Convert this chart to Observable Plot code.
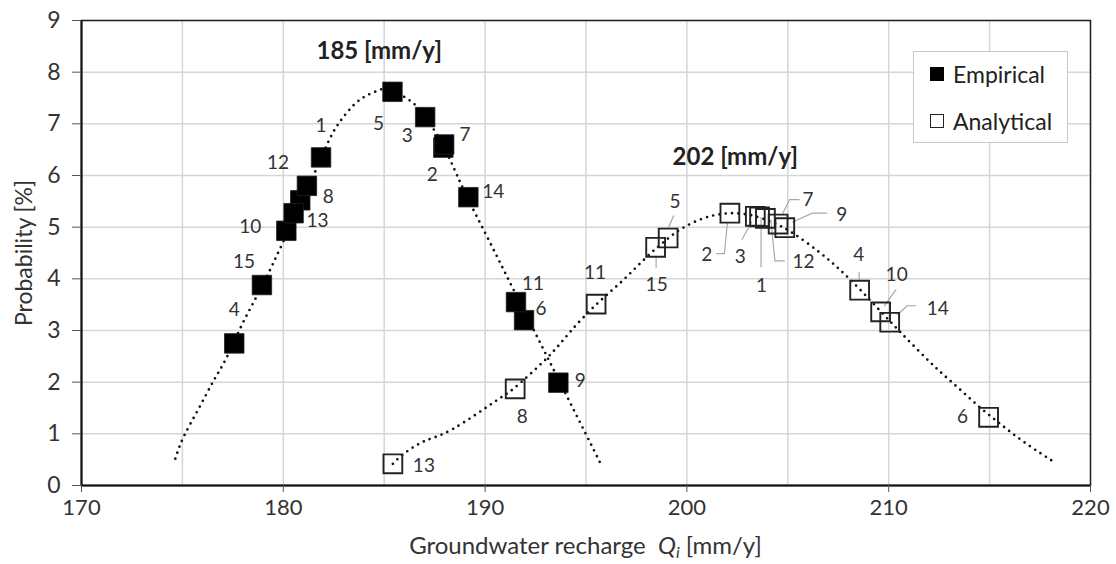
<!DOCTYPE html>
<html>
<head>
<meta charset="utf-8">
<script src="https://cdn.jsdelivr.net/npm/d3@7"></script>
<script src="https://cdn.jsdelivr.net/npm/@observablehq/plot@0.6"></script>
<style>
  body { margin: 0; background: #fff; font-family: Lato, "Open Sans", sans-serif; }
  #chart { position: relative; width: 1116px; height: 564px; }
  .legend {
    position: absolute; left: 913px; top: 51px; width: 155px; height: 92px;
    background: #fff; border: 1.5px solid #c8c8c8; box-sizing: border-box;
    font-size: 23px; color: #222;
  }
  .legend .item { position: absolute; left: 16px; display: flex; align-items: center; height: 26px; }
  .legend .sw { width: 14px; height: 14px; box-sizing: border-box; margin-right: 9px; }
  .legend .filled { background: #000; }
  .legend .open { border: 1.6px solid #222; background: #fff; }
</style>
</head>
<body>
<div id="chart"></div>
<script>
// Empirical distribution: realisation number, recharge Q [mm/y], probability [%]
const empiricalId = [1, 2, 3, 4, 5, 6, 7, 8, 9, 10, 11, 12, 13, 14, 15];
const empiricalQ  = [181.87, 187.93, 187.03, 177.57, 185.41, 191.93, 187.97, 180.84, 193.63, 180.15, 191.53, 181.17, 180.51, 189.17, 178.94];
const empiricalP  = [6.35, 6.54, 7.13, 2.75, 7.62, 3.20, 6.60, 5.52, 1.99, 4.93, 3.55, 5.80, 5.27, 5.58, 3.88];

// Analytical distribution
const analyticalId = [1, 2, 3, 4, 5, 6, 7, 8, 9, 10, 11, 12, 13, 14, 15];
const analyticalQ  = [203.60, 202.13, 203.39, 208.56, 199.07, 214.95, 204.52, 191.49, 204.85, 209.60, 195.50, 203.89, 185.43, 210.05, 198.45];
const analyticalP  = [5.20, 5.27, 5.21, 3.78, 4.79, 1.32, 5.06, 1.87, 4.99, 3.36, 3.51, 5.17, 0.42, 3.16, 4.61];

// Dotted trend curves
const empiricalCurveQ = [174.65, 175.06, 175.81, 176.55, 177.21, 178.0, 179.0, 180.0, 181.0, 181.5, 182.24, 182.82, 183.48, 184.14, 184.8, 185.3, 186.0, 186.5, 187.0, 187.6, 188.27, 189.0, 190.0, 191.0, 192.0, 193.0, 194.0, 195.0, 195.69];
const empiricalCurveP = [0.52, 0.94, 1.49, 2.03, 2.49, 3.15, 3.9, 4.72, 5.55, 6.0, 6.66, 7.05, 7.36, 7.55, 7.66, 7.68, 7.52, 7.38, 7.15, 6.8, 6.3, 5.67, 4.89, 4.11, 3.33, 2.55, 1.77, 0.99, 0.45];
const analyticalCurveQ = [185.43, 185.96, 187.0, 188.43, 190.58, 191.49, 193.05, 194.21, 195.5, 196.8, 198.0, 199.0, 199.82, 200.81, 201.63, 202.3, 203.2, 204.2, 205.27, 206.58, 207.57, 208.56, 209.6, 210.5, 211.5, 212.5, 213.5, 214.5, 215.5, 216.5, 217.5, 218.3];
const analyticalCurveP = [0.42, 0.61, 0.86, 1.10, 1.65, 1.9, 2.46, 2.97, 3.5, 3.96, 4.42, 4.76, 4.99, 5.17, 5.25, 5.27, 5.23, 5.1, 4.88, 4.51, 4.18, 3.8, 3.37, 3.0, 2.6, 2.22, 1.87, 1.52, 1.2, 0.9, 0.63, 0.43];

// Modes of the two distributions
const modeQ = [185, 202];
const modeText = ["185 [mm/y]", "202 [mm/y]"];

// Axis ticks
const xTicks = [170, 180, 190, 200, 210, 220];
const xGrid = [170, 175, 180, 185, 190, 195, 200, 205, 210, 215, 220];
const yTicks = [0, 1, 2, 3, 4, 5, 6, 7, 8, 9];

// Tables built from the arrays above
const empirical = empiricalId.map((id, i) => ({id, q: empiricalQ[i], p: empiricalP[i]}));
const analytical = analyticalId.map((id, i) => ({id, q: analyticalQ[i], p: analyticalP[i]}));
const empiricalCurve = empiricalCurveQ.map((q, i) => ({q, p: empiricalCurveP[i]}));
const analyticalCurve = analyticalCurveQ.map((q, i) => ({q, p: analyticalCurveP[i]}));
const modes = [
  {q: modeQ[0], p: d3.max(empiricalCurveP), text: modeText[0]},
  {q: modeQ[1], p: d3.max(analyticalCurveP), text: modeText[1]}
];

// Label placement (pixel offsets from each square's centre)
const empLabelPos = {
  1: [0, -32], 2: [-11, 27], 3: [-18, 19], 4: [0, -34], 5: [-14, 32],
  6: [17, -11], 7: [21, -10], 8: [28, -3], 9: [22, -2], 10: [-36, -4],
  11: [17, -18], 12: [-29, -23], 13: [24, 8], 14: [25, -5], 15: [-18, -23]
};
const anaLabelPos = {
  1: [2, 69], 2: [-23, 42], 3: [-15, 41], 4: [-1, -35], 5: [7, -36],
  6: [-26, 0], 7: [30, -24], 8: [7, 28], 9: [57, -13], 10: [16, -37],
  11: [-1, -31], 12: [38, 44], 13: [31, 2], 14: [48, -13], 15: [1, 38]
};
// Leader polylines (pixel offsets from each square's centre)
const anaLeaders = {
  1: [[2, 51], [2, 1]],
  2: [[-13, 41], [-5, 41], [-2, 10]],
  3: [[-13, 24], [-3, 6]],
  4: [[0, -18], [0, -10]],
  5: [[6, -22], [1, -10]],
  7: [[22, -24], [12, -24], [5, -10]],
  9: [[43, -14], [28, -14], [8, -5]],
  10: [[16, -22], [4, -5]],
  12: [[20, 43], [10, 43], [6, 2]],
  14: [[27, -16], [18, -16], [8, -7]],
  15: [[1, 21], [1, 10]]
};

const labelMarks = (rows, pos) => rows.map(d => Plot.text([d], {
  x: "q", y: "p", text: r => String(r.id),
  dx: pos[d.id][0], dy: pos[d.id][1],
  fontSize: 19, fill: "#333"
}));

const leaderMark = (rows, leaders) => (index, scales) => {
  const g = d3.create("svg:g")
    .attr("fill", "none").attr("stroke", "#a8a8a8").attr("stroke-width", 1.2);
  for (const [id, path] of Object.entries(leaders)) {
    const d = rows.find(r => r.id === +id);
    const cx = scales.x(d.q), cy = scales.y(d.p);
    g.append("polyline").attr("points", path.map(([dx, dy]) => `${cx + dx},${cy + dy}`).join(" "));
  }
  return g.node();
};

const dotted = {x: "q", y: "p", curve: "natural", stroke: "#111", strokeWidth: 2.7,
  strokeDasharray: "0 6.4", strokeLinecap: "round"};

const plot = Plot.plot({
  width: 1116, height: 564,
  marginLeft: 81, marginRight: 26, marginTop: 20, marginBottom: 79,
  x: {domain: [170, 220]},
  y: {domain: [0, 9]},
  style: {fontFamily: "Lato, 'Open Sans', sans-serif", fontSize: "22px", color: "#333", background: "#fff"},
  marks: [
    Plot.gridX(xGrid, {stroke: "#d6d6d6", strokeOpacity: 1, strokeWidth: 1.5}),
    Plot.gridY(yTicks, {stroke: "#d6d6d6", strokeOpacity: 1, strokeWidth: 1.5}),
    Plot.frame({stroke: "#222", strokeWidth: 1.5}),
    Plot.ruleY([0], {stroke: "#111", strokeWidth: 2}),
    Plot.ruleX([170], {stroke: "#111", strokeWidth: 2}),
    Plot.axisX({ticks: xTicks, tickSize: 7, tickPadding: 7, label: null, stroke: "#555"}),
    Plot.axisY({ticks: yTicks, tickSize: 9, tickPadding: 12, label: "Probability [%]",
      labelAnchor: "center", labelOffset: 66, labelArrow: "none", stroke: "#555", fontSize: 23}),
    Plot.line(empiricalCurve, dotted),
    Plot.line(analyticalCurve, dotted),
    leaderMark(analytical, anaLeaders),
    Plot.dot(empirical, {x: "q", y: "p", symbol: "square", r: 11, fill: "#000", stroke: "#222", strokeWidth: 0.8}),
    Plot.dot(analytical, {x: "q", y: "p", symbol: "square", r: 10.6, fill: "none", stroke: "#222", strokeWidth: 1.9}),
    ...labelMarks(empirical, empLabelPos),
    ...labelMarks(analytical, anaLabelPos),
    Plot.text([modes[0]], {x: "q", y: "p", text: "text", dx: -5, dy: -37, fontSize: 24, fontWeight: "bold", fill: "#222"}),
    Plot.text([modes[1]], {x: "q", y: "p", text: "text", dx: 8, dy: -56, fontSize: 24, fontWeight: "bold", fill: "#222"})
  ]
});

// x-axis title with an italic Q subscript i
const svg = d3.select(plot);
const xt = svg.append("text")
  .attr("x", (81 + 1090) / 2).attr("y", 548)
  .attr("text-anchor", "middle").attr("dominant-baseline", "middle")
  .attr("fill", "#333").attr("font-size", 24);
xt.append("tspan").text("Groundwater recharge  ");
xt.append("tspan").attr("font-style", "italic").text("Q");
xt.append("tspan").attr("font-style", "italic").attr("font-size", 16).attr("dy", 6).text("i");
xt.append("tspan").attr("dy", -6).text(" [mm/y]");

const chart = document.getElementById("chart");
chart.appendChild(plot);

// Legend
const legend = document.createElement("div");
legend.className = "legend";
legend.innerHTML =
  '<div class="item" style="top:9px"><span class="sw filled"></span>Empirical</div>' +
  '<div class="item" style="top:56px"><span class="sw open"></span>Analytical</div>';
chart.appendChild(legend);
</script>
</body>
</html>
